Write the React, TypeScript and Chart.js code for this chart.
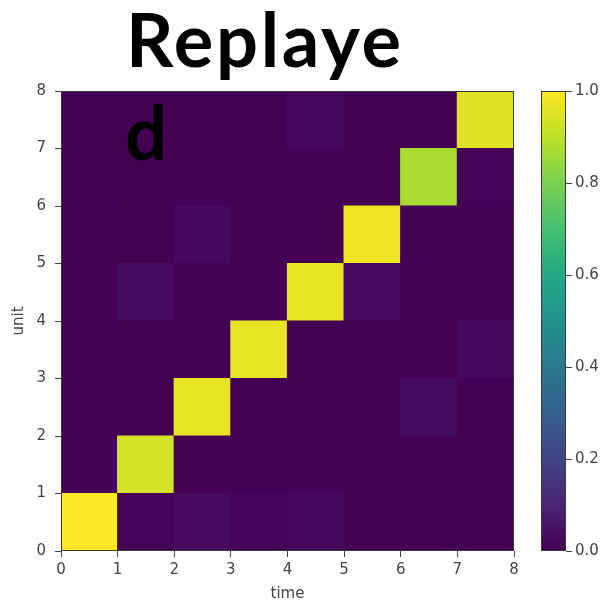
import React, { useEffect, useRef } from "react";
import { Chart, registerables } from "chart.js";

Chart.register(...registerables);

// ---- data ----
const timeTicks = [0, 1, 2, 3, 4, 5, 6, 7, 8];
const unitTicks = [0, 1, 2, 3, 4, 5, 6, 7, 8];
const colorbarTicks = [0, 0.2, 0.4, 0.6, 0.8, 1.0];
const titleLine1 = "Replaye";
const titleLine2 = "d";
const xLabel = "time";
const yLabel = "unit";

// row index = unit (0 at bottom), column index = time
const unit0 = [1.0, 0.005, 0.025, 0.008, 0.02, 0.0, 0.0, 0.0];
const unit1 = [0.0, 0.935, 0.0, 0.0, 0.0, 0.0, 0.0, 0.0];
const unit2 = [0.0, 0.0, 0.965, 0.0, 0.0, 0.0, 0.03, 0.0];
const unit3 = [0.0, 0.0, 0.0, 0.965, 0.0, 0.0, 0.0, 0.02];
const unit4 = [0.0, 0.028, 0.0, 0.0, 0.965, 0.025, 0.0, 0.0];
const unit5 = [0.0, 0.0, 0.02, 0.0, 0.0, 0.98, 0.0, 0.0];
const unit6 = [0.0, 0.0, 0.0, 0.0, 0.0, 0.0, 0.87, 0.005];
const unit7 = [0.0, 0.0, 0.0, 0.0, 0.018, 0.0, 0.0, 0.955];
const units = [unit0, unit1, unit2, unit3, unit4, unit5, unit6, unit7];

// ---- colormap (viridis anchors) ----
const VIRIDIS = [
  "#440154", "#482475", "#414487", "#355f8d", "#2a788e", "#21918c",
  "#22a884", "#44bf70", "#7ad151", "#bddf26", "#fde725",
];
function hexToRgb(h: string) {
  const n = parseInt(h.slice(1), 16);
  return [(n >> 16) & 255, (n >> 8) & 255, n & 255];
}
function viridis(v: number) {
  const t = Math.max(0, Math.min(1, v)) * (VIRIDIS.length - 1);
  const i = Math.min(Math.floor(t), VIRIDIS.length - 2);
  const f = t - i;
  const a = hexToRgb(VIRIDIS[i]);
  const b = hexToRgb(VIRIDIS[i + 1]);
  const c = a.map((x, k) => Math.round(x + (b[k] - x) * f));
  return `rgb(${c[0]},${c[1]},${c[2]})`;
}

const TICK_COLOR = "#444";
const FONT = { family: "DejaVu Sans", size: 15 };

const framePlugin = {
  id: "frame",
  afterDraw(chart: any) {
    const { ctx, chartArea: a } = chart;
    ctx.save();
    ctx.strokeStyle = "#3a3a3a";
    ctx.lineWidth = 1;
    ctx.strokeRect(a.left + 0.5, a.top + 0.5, a.right - a.left - 1, a.bottom - a.top - 1);
    ctx.restore();
  },
};

export default function App() {
  const mainRef = useRef<HTMLCanvasElement>(null);
  const cbRef = useRef<HTMLCanvasElement>(null);

  useEffect(() => {
    const datasets = units.map((row, j) => ({
      data: row.map((_, i) => ({ x: timeTicks[i] + 0.5, y: [unitTicks[j], unitTicks[j + 1]] })),
      backgroundColor: row.map((v) => viridis(v)),
      borderWidth: 0,
      inflateAmount: 0.6,
      barPercentage: 1,
      categoryPercentage: 1,
      grouped: false,
    }));

    const main = new Chart(mainRef.current!, {
      type: "bar",
      data: { datasets: datasets as any },
      options: {
        responsive: false,
        animation: false,
        layout: { padding: { top: 91, right: 16, left: 0, bottom: 0 } },
        plugins: { legend: { display: false }, tooltip: { enabled: false } },
        scales: {
          x: {
            type: "linear",
            min: 0,
            max: 8,
            offset: false,
            afterFit: (s: any) => { s.height = 52; },
            afterBuildTicks: (s: any) => { s.ticks = timeTicks.map((v) => ({ value: v })); },
            ticks: { color: TICK_COLOR, font: FONT, padding: 4, maxRotation: 0 },
            grid: { offset: false, drawOnChartArea: false, drawTicks: true, tickLength: 6, color: TICK_COLOR },
            border: { display: false },
            title: { display: true, text: xLabel, color: TICK_COLOR, font: FONT, padding: { top: 0, bottom: 0 } },
          },
          y: {
            type: "linear",
            min: 0,
            max: 8,
            afterFit: (s: any) => { s.width = 61; },
            afterBuildTicks: (s: any) => { s.ticks = unitTicks.map((v) => ({ value: v })); },
            ticks: { color: TICK_COLOR, font: FONT, padding: 9 },
            grid: { offset: false, drawOnChartArea: false, drawTicks: true, tickLength: 6, color: TICK_COLOR },
            border: { display: false },
            title: { display: true, text: yLabel, color: TICK_COLOR, font: FONT, padding: { top: 10, bottom: 0 } },
          },
        },
      },
      plugins: [framePlugin],
    });

    const cb = new Chart(cbRef.current!, {
      type: "bar",
      data: {
        labels: ["cb"],
        datasets: [
          {
            data: [[colorbarTicks[0], colorbarTicks[colorbarTicks.length - 1]]],
            borderWidth: 0,
            barPercentage: 1,
            categoryPercentage: 1,
            backgroundColor: (ctx: any) => {
              const a = ctx.chart.chartArea;
              if (!a) return VIRIDIS[0];
              const g = ctx.chart.ctx.createLinearGradient(0, a.bottom, 0, a.top);
              VIRIDIS.forEach((c, k) => g.addColorStop(k / (VIRIDIS.length - 1), c));
              return g;
            },
          } as any,
        ],
      },
      options: {
        responsive: false,
        animation: false,
        layout: { padding: { top: 91, left: 11, bottom: 52, right: 0 } },
        plugins: { legend: { display: false }, tooltip: { enabled: false } },
        scales: {
          x: { display: false },
          y: {
            position: "right",
            min: 0,
            max: 1,
            afterFit: (s: any) => { s.width = 44; },
            afterBuildTicks: (s: any) => { s.ticks = colorbarTicks.map((v) => ({ value: v })); },
            ticks: { color: TICK_COLOR, font: FONT, padding: 3, callback: (v: any) => Number(v).toFixed(1) },
            grid: { drawOnChartArea: false, drawTicks: true, tickLength: 6, color: TICK_COLOR },
            border: { display: false },
          },
        },
      },
      plugins: [framePlugin],
    });

    return () => {
      main.destroy();
      cb.destroy();
    };
  }, []);

  const titleStyle: React.CSSProperties = {
    position: "absolute",
    fontFamily: "Lato, 'Open Sans', sans-serif",
    fontWeight: 700,
    fontSize: 74,
    lineHeight: 1,
    color: "#000",
    whiteSpace: "nowrap",
  };

  return (
    <div style={{ position: "absolute", left: 0, top: 0, width: 610, height: 603, background: "#fff", overflow: "hidden" }}>
      <canvas ref={mainRef} width={530} height={603} style={{ position: "absolute", left: 0, top: 0 }} />
      <canvas ref={cbRef} width={80} height={603} style={{ position: "absolute", left: 530, top: 0 }} />
      <div style={{ ...titleStyle, left: 126, top: 2, letterSpacing: "2.7px" }}>{titleLine1}</div>
      <div style={{ ...titleStyle, left: 125, top: 95 }}>{titleLine2}</div>
    </div>
  );
}
